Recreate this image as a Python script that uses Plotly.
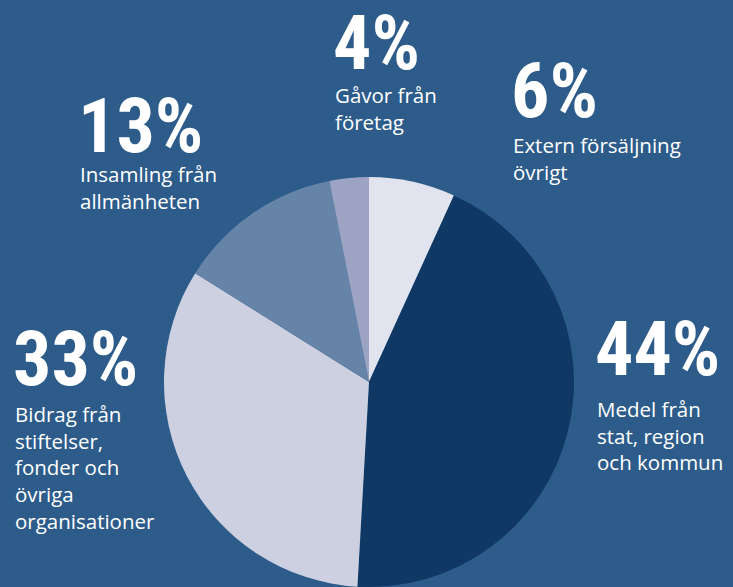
import plotly.graph_objects as go

# slice sizes (clockwise from 12 o'clock)
shares = [6.8, 44.1, 33.0, 13.0, 3.1]
pct_labels = ["6%", "44%", "33%", "13%", "4%"]
names = [
    "Extern försäljning<br>övrigt",
    "Medel från<br>stat, region<br>och kommun",
    "Bidrag från<br>stiftelser,<br>fonder och<br>övriga<br>organisationer",
    "Insamling från<br>allmänheten",
    "Gåvor från<br>företag",
]
colors = ["#e1e4ef", "#0f3865", "#cdd0e0", "#6584a8", "#9da3c2"]

W, H = 733, 587
BG = "#2d5c8b"

# pie geometry in pixels
cx, r = 369, 205
top = 177

fig = go.Figure(go.Pie(
    values=shares,
    labels=[n.replace("<br>", " ") for n in names],
    marker=dict(colors=colors, line=dict(width=0)),
    sort=False,
    direction="clockwise",
    rotation=0,
    textinfo="none",
    showlegend=False,
    domain=dict(x=[(cx - r) / W, (cx + r) / W], y=[0, 1 - top / H]),
))

# where the labels sit: left edge and cap top of the glyphs, in pixels
num_pos = [(513, 64), (597, 322), (15, 332), (80, 99), (335, 16)]
txt_pos = [(513, 138), (597, 402), (15, 407), (80, 167), (335, 88)]

num_font = dict(family="Roboto Condensed", size=76, color="white", weight="bold")
txt_font = dict(family="Open Sans", size=20.5, color="white")

for (nx, ny), (tx, ty), p, n in zip(num_pos, txt_pos, pct_labels, names):
    fig.add_annotation(x=(nx - 3) / W, y=1 - (ny - 19) / H, xref="paper", yref="paper",
                       xanchor="left", yanchor="top", text=p, borderpad=0,
                       showarrow=False, font=num_font, align="left")
    fig.add_annotation(x=(tx - 2) / W, y=1 - (ty - 9) / H, xref="paper", yref="paper",
                       xanchor="left", yanchor="top", text=n,
                       showarrow=False, font=txt_font, align="left")

fig.update_layout(
    width=W, height=H,
    margin=dict(l=0, r=0, t=0, b=0),
    paper_bgcolor=BG,
    plot_bgcolor=BG,
)

fig.write_html("out.html", config={"displayModeBar": False},
               post_script="document.body.style.margin='0';")
